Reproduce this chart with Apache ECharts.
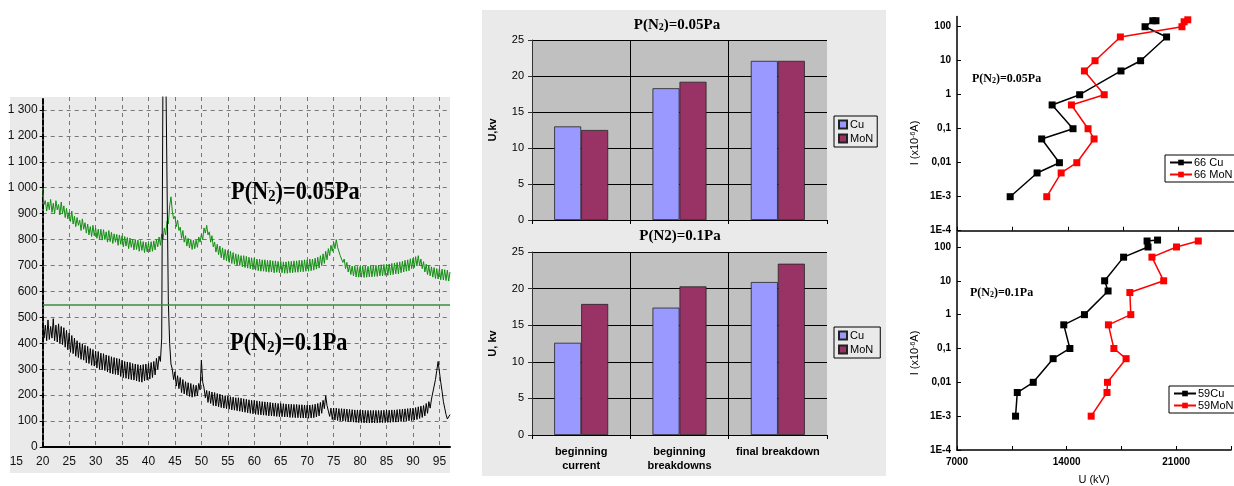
<!DOCTYPE html>
<html>
<head>
<meta charset="utf-8">
<title>MoN coatings: XRD and breakdown tests</title>
<script src="https://cdn.jsdelivr.net/npm/echarts@6/dist/echarts.min.js"></script>
<style>
  html, body { margin: 0; padding: 0; background: #fff; }
  #chart { width: 1234px; height: 486px; }
</style>
</head>
<body>
<div id="chart"></div>
<script>
// ---------- XRD patterns: counts every 0.25° of 2θ, from 20° to 97° ----------
// The noisy traces alternate between upper and lower readings of the band.
const xrdAngleStart = 20;
const xrdAngleStep = 0.25;
const xrdCounts005Pa = [
  995, 935, 950, 910,  945, 915, 955, 905,  940, 900, 950, 915,  935, 895, 945, 900,
  930, 885, 920, 880,  905, 870, 910, 860,  890, 850, 885, 855,  875, 835, 880, 840,
  865, 825, 860, 818,  850, 812, 855, 815,  845, 805, 840, 800,  840, 798, 838, 800,
  830, 790, 835, 792,  828, 785, 822, 790,  820, 778, 818, 782,  815, 772, 812, 775,
  808, 765, 806, 770,  802, 760, 800, 762,  798, 755, 796, 758,  792, 750, 790, 752,
  788, 752, 792, 755,  795, 760, 800, 772,  810, 778, 822, 800,  845, 818, 872, 860,
  930, 965, 910, 880,  890, 850, 875, 835,  848, 805, 835, 790,  815, 775, 805, 768,
  800, 762, 798, 765,  798, 770, 810, 790,  820, 800, 845, 825,  855, 818, 830, 790,
  815, 772, 790, 752,  782, 742, 775, 730,  768, 722, 762, 718,  758, 712, 755, 708,
  750, 705, 745, 700,  742, 700, 738, 695,  738, 692, 735, 690,  732, 688, 730, 684,
  728, 682, 725, 680,  724, 678, 722, 678,  722, 676, 720, 674,  720, 675, 718, 672,
  718, 674, 716, 672,  716, 672, 714, 670,  714, 670, 716, 672,  716, 672, 718, 674,
  718, 674, 720, 676,  720, 676, 722, 678,  722, 678, 725, 680,  725, 682, 728, 686,
  732, 690, 738, 700,  745, 708, 755, 722,  765, 738, 778, 755,  790, 765, 800, 770,
  770, 738, 745, 712,  725, 688, 712, 675,  700, 665, 698, 660,  698, 656, 696, 655,
  696, 655, 698, 654,  698, 655, 697, 656,  700, 656, 699, 658,  701, 658, 702, 660,
  703, 660, 704, 662,  705, 662, 706, 664,  708, 665, 710, 668,  712, 668, 714, 672,
  716, 675, 720, 678,  722, 680, 726, 688,  728, 692, 734, 698,  738, 700, 725, 688,
  715, 675, 705, 665,  700, 660, 695, 655,  692, 650, 688, 648,  688, 645, 686, 644,
  684, 642, 682, 640,  675
];
const xrdCounts01Pa = [
  480, 420, 470, 410,  490, 415, 465, 420,  495, 410, 470, 405,  475, 400, 465, 395,
  460, 385, 450, 375,  440, 365, 430, 360,  420, 350, 410, 345,  402, 338, 398, 335,
  392, 325, 388, 322,  380, 315, 376, 312,  370, 305, 368, 300,  362, 298, 360, 295,
  355, 290, 352, 285,  348, 282, 345, 280,  342, 278, 340, 272,  335, 268, 330, 265,
  328, 262, 326, 260,  322, 258, 320, 255,  318, 252, 316, 250,  318, 255, 320, 258,
  322, 262, 326, 268,  330, 278, 342, 300,  350, 330, 420, 1500,  1500, 1500, 1500, 560,
  400, 320, 300, 260,  290, 235, 275, 225,  268, 210, 260, 205,  252, 200, 248, 195,
  245, 192, 240, 195,  238, 198, 245, 220,  335, 250, 228, 190,  218, 172, 215, 168,
  212, 160, 210, 158,  206, 155, 204, 152,  200, 150, 198, 148,  196, 146, 194, 143,
  192, 142, 190, 140,  190, 138, 188, 136,  186, 134, 184, 132,  182, 130, 180, 128,
  180, 126, 178, 125,  176, 124, 175, 123,  174, 122, 173, 120,  172, 120, 170, 119,
  170, 118, 168, 117,  168, 117, 167, 116,  166, 116, 165, 114,  165, 114, 164, 113,
  164, 113, 163, 112,  163, 112, 162, 112,  162, 111, 162, 112,  163, 113, 165, 116,
  168, 120, 172, 130,  180, 148, 198, 160,  165, 118, 150, 106,  150, 104, 150, 102,
  148, 101, 148, 100,  147, 99, 146, 98,  145, 97, 144, 96,  143, 95, 143, 94,
  142, 94, 142, 93,  141, 93, 141, 93,  141, 93, 141, 93,  141, 93, 141, 94,
  141, 94, 142, 94,  142, 95, 142, 95,  143, 96, 143, 96,  144, 97, 145, 98,
  146, 99, 147, 100,  148, 101, 149, 102,  150, 104, 152, 106,  155, 110, 158, 114,
  160, 120, 168, 130,  175, 150, 185, 178,  235, 260, 295, 330,  290, 250, 215, 175,
  150, 125, 108, 115,  125
];
const xrdDividerLevel = 548;

// ---------- breakdown voltages (kV) ----------
const stageCategories = ['beginning\ncurrent', 'beginning\nbreakdowns', 'final breakdown'];
const cu005 = [13.0, 18.3, 22.1];
const mon005 = [12.5, 19.2, 22.1];
const cu01 = [12.6, 17.4, 20.9];
const mon01 = [17.9, 20.3, 23.4];

// ---------- I–U curves: current (×10⁻⁶ A) vs voltage ----------
const current66Cu  = [0.001, 0.005, 0.01, 0.05, 0.1, 0.5, 1, 5, 10, 50, 100, 150, 150];
const voltage66Cu  = [10360, 12060, 13470, 12350, 14330, 13010, 14750, 17360, 18600, 20240, 18880, 19370, 19570];
const current66MoN = [0.001, 0.005, 0.01, 0.05, 0.1, 0.5, 1, 5, 10, 50, 100, 140, 160];
const voltage66MoN = [12670, 13580, 14570, 15660, 15280, 14230, 16300, 15050, 15720, 17320, 21210, 21350, 21580];
const current59Cu  = [0.001, 0.005, 0.01, 0.05, 0.1, 0.5, 1, 5, 10, 50, 100, 150, 160];
const voltage59Cu  = [10740, 10850, 11870, 13140, 14210, 13820, 15140, 16650, 16430, 17640, 19200, 19140, 19810];
const current59MoN = [0.001, 0.005, 0.01, 0.05, 0.1, 0.5, 1, 4.5, 10, 50, 100, 150];
const voltage59MoN = [15570, 16580, 16610, 17800, 17020, 16670, 18100, 18040, 20200, 19450, 21020, 22410];
const decadeLabels = ['1E-4', '1E-3', '0,01', '0,1', '1', '10', '100'];

// ---------- helpers ----------
const SANS = '"Liberation Sans", Arial, sans-serif';
const NARROW = '"Liberation Sans Narrow", "Liberation Sans", Arial, sans-serif';
const SERIF = '"Liberation Serif", "Times New Roman", serif';

function xrdPairs(counts) {
  return counts.map((c, i) => [xrdAngleStart + i * xrdAngleStep, c]);
}
function ivPairs(voltage, current) {
  return voltage.map((u, i) => [u, Math.log10(current[i])]);
}
function thousands(v) {
  return v >= 1000 ? String(v).replace(/(\d)(\d{3})$/, '$1 $2') : String(v);
}
function decadeLabel(v) {
  const k = Math.round(v) + 4;
  return Math.abs(v - Math.round(v)) < 1e-6 && decadeLabels[k] ? decadeLabels[k] : '';
}

const chart = echarts.init(document.getElementById('chart'), null, { renderer: 'canvas' });

const barAxisY = (name) => ({
  type: 'value', min: 0, max: 25, interval: 5,
  name: name, nameLocation: 'middle', nameGap: 34,
  nameTextStyle: { fontFamily: SANS, fontSize: 11, fontWeight: 'bold', color: '#000' },
  axisLine: { show: true, lineStyle: { color: '#333', width: 1 } },
  axisTick: { show: true, length: 4, lineStyle: { color: '#333' } },
  axisLabel: { fontFamily: SANS, fontSize: 11, color: '#000', margin: 8 },
  splitLine: { show: true, lineStyle: { color: '#000', width: 1 } }
});
const barAxisX = (showLabels) => ({
  type: 'category', data: stageCategories, boundaryGap: true,
  axisLine: { show: true, lineStyle: { color: '#000', width: 1 } },
  axisTick: { show: true, length: 4, lineStyle: { color: '#000' } },
  axisLabel: {
    show: showLabels, interval: 0, fontFamily: SANS, fontSize: 11, fontWeight: 'bold',
    color: '#000', lineHeight: 14, margin: 10
  },
  splitLine: { show: true, showMaxLine: false, lineStyle: { color: '#000', width: 1 } }
});
const ivAxisY = (max) => ({
  type: 'value', min: -4, max: Math.log10(max), interval: 1,
  axisLine: { show: true, onZero: false, lineStyle: { color: '#000', width: 1.5 } },
  axisTick: { show: true, inside: true, length: 4, lineStyle: { color: '#000', width: 1 } },
  axisLabel: { formatter: decadeLabel, showMaxLabel: false, fontFamily: SANS, fontSize: 10, fontWeight: 'bold', color: '#000', margin: 6 },
  splitLine: { show: false }
});
const ivAxisX = (showLabels) => ({
  type: 'value', min: 7000, max: 24500, interval: 3500,
  axisLine: { show: true, onZero: false, lineStyle: { color: '#000', width: 1.5 } },
  axisTick: { show: true, inside: true, length: 4, lineStyle: { color: '#000', width: 1 } },
  axisLabel: {
    show: showLabels, fontFamily: SANS, fontSize: 10, fontWeight: 'bold', color: '#000', margin: 7,
    formatter: (v) => (v % 7000 === 0 && v < 24500 ? String(v) : '')
  },
  name: showLabels ? 'U (kV)' : '', nameLocation: 'middle', nameGap: 24,
  nameTextStyle: { fontFamily: SANS, fontSize: 11, color: '#000' },
  splitLine: { show: false }
});

const subTitle = (x, y, big, small, rest, size, scaleX) => ({
  type: 'text', x: x, y: y, scaleX: scaleX || 1, z: 10,
  style: {
    text: '{a|' + big + '}{s|' + small + '}{a|' + rest + '}',
    verticalAlign: 'middle', align: 'left',
    rich: {
      a: { fontFamily: SERIF, fontWeight: 'bold', fontSize: size, fill: '#000' },
      s: { fontFamily: SERIF, fontWeight: 'bold', fontSize: Math.round(size * 0.66), fill: '#000', verticalAlign: 'bottom' }
    }
  }
});

const option = {
  animation: false,
  backgroundColor: '#ffffff',
  graphic: [
    // panel backgrounds
    { type: 'rect', z: -1, shape: { x: 10, y: 97, width: 440, height: 376 }, style: { fill: '#eaeaea' } },
    { type: 'rect', z: -1, shape: { x: 482, y: 10, width: 404, height: 466 }, style: { fill: '#eaeaea' } },
    // XRD annotations
    subTitle(231, 192, 'P(N', '2', ')=0.05Pa', 26, 0.86),
    subTitle(230, 343, 'P(N', '2', ')=0.1Pa', 26, 0.86),
    // bar-chart titles
    {
      type: 'text', x: 677, y: 25, z: 10,
      style: {
        text: '{a|P(N}{s|2}{a|)=0.05Pa}', align: 'center', verticalAlign: 'middle',
        rich: {
          a: { fontFamily: SERIF, fontWeight: 'bold', fontSize: 15, fill: '#000' },
          s: { fontFamily: SERIF, fontWeight: 'bold', fontSize: 10, fill: '#000', verticalAlign: 'bottom' }
        }
      }
    },
    {
      type: 'text', x: 680, y: 236, z: 10,
      style: { text: 'P(N2)=0.1Pa', align: 'center', verticalAlign: 'middle', font: 'bold 15px ' + SERIF, fill: '#000' }
    },
    // I–U annotations
    subTitle(972, 79, 'P(N', '2', ')=0.05Pa', 12, 1),
    subTitle(970, 293, 'P(N', '2', ')=0.1Pa', 12, 1),
    // I–U axis names
    {
      type: 'text', x: 915, y: 143, rotation: Math.PI / 2, z: 10,
      style: {
        text: '{a|I (x10}{p|-6}{a|A)}', align: 'center', verticalAlign: 'middle',
        rich: { a: { fontFamily: SANS, fontSize: 11, fill: '#000' }, p: { fontFamily: SANS, fontSize: 7, fill: '#000', verticalAlign: 'top' } }
      }
    },
    {
      type: 'text', x: 915, y: 353, rotation: Math.PI / 2, z: 10,
      style: {
        text: '{a|I (x10}{p|-6}{a|A)}', align: 'center', verticalAlign: 'middle',
        rich: { a: { fontFamily: SANS, fontSize: 11, fill: '#000' }, p: { fontFamily: SANS, fontSize: 7, fill: '#000', verticalAlign: 'top' } }
      }
    }
  ],
  legend: [
    {
      data: ['Cu', 'MoN'], orient: 'vertical', left: 834, top: 116,
      itemWidth: 8, itemHeight: 8, itemGap: 3, padding: [3, 4, 3, 4],
      borderColor: '#000', borderWidth: 1, backgroundColor: '#eaeaea', icon: 'rect',
      textStyle: { fontFamily: SANS, fontSize: 11, color: '#000', padding: [0, 0, 0, -2] },
      selectedMode: false
    },
    {
      data: ['Cu ', 'MoN '], orient: 'vertical', left: 834, top: 327,
      itemWidth: 8, itemHeight: 8, itemGap: 3, padding: [3, 4, 3, 4],
      borderColor: '#000', borderWidth: 1, backgroundColor: '#eaeaea', icon: 'rect',
      textStyle: { fontFamily: SANS, fontSize: 11, color: '#000', padding: [0, 0, 0, -2] },
      selectedMode: false
    },
    {
      data: ['66 Cu', '66 MoN'], orient: 'vertical', left: 1165, top: 155,
      itemWidth: 22, itemHeight: 7, itemGap: 1, padding: [2, 20, 2, 4],
      borderColor: '#000', borderWidth: 1, backgroundColor: '#fff',
      textStyle: { fontFamily: SANS, fontSize: 11, color: '#000', padding: [0, 0, 0, -3] },
      selectedMode: false
    },
    {
      data: ['59Cu', '59MoN'], orient: 'vertical', left: 1169, top: 386,
      itemWidth: 22, itemHeight: 7, itemGap: 1, padding: [2, 20, 2, 4],
      borderColor: '#000', borderWidth: 1, backgroundColor: '#fff',
      textStyle: { fontFamily: SANS, fontSize: 11, color: '#000', padding: [0, 0, 0, -3] },
      selectedMode: false
    }
  ],
  grid: [
    { left: 16.3, right: 784, top: 97, bottom: 39 },                 // XRD angle labels
    { left: 42.7, right: 784, top: 97, bottom: 39 },                 // XRD plot
    { left: 532, right: 407, top: 40, bottom: 266, show: true, backgroundColor: '#c0c0c0', borderWidth: 0 },
    { left: 532, right: 407, top: 252, bottom: 51, show: true, backgroundColor: '#c0c0c0', borderWidth: 0 },
    { left: 957, right: -37, top: 16.5, bottom: 255.3 },
    { left: 957, right: -37, top: 232.1, bottom: 35 }
  ],
  xAxis: [
    {
      gridIndex: 0, type: 'value', min: 15, max: 97, interval: 5,
      axisLine: { show: false }, axisTick: { show: false }, splitLine: { show: false },
      axisLabel: { showMaxLabel: false, fontFamily: NARROW, fontSize: 12, color: '#111', margin: 9 }
    },
    {
      gridIndex: 1, type: 'value', min: 20, max: 97, interval: 5,
      axisLine: { show: true, onZero: false, lineStyle: { color: '#000', width: 2 } },
      axisTick: { show: false }, axisLabel: { show: false },
      splitLine: { show: true, showMinLine: false, showMaxLine: false, lineStyle: { color: '#777', width: 1, type: [4, 4] } }
    },
    Object.assign(barAxisX(false), { gridIndex: 2 }),
    Object.assign(barAxisX(true), { gridIndex: 3 }),
    Object.assign(ivAxisX(false), { gridIndex: 4 }),
    Object.assign(ivAxisX(true), { gridIndex: 5 })
  ],
  yAxis: [
    { gridIndex: 0, type: 'value', min: 0, max: 1, show: false },
    {
      gridIndex: 1, type: 'value', min: 0, max: 1350, interval: 100,
      axisLine: { show: true, onZero: false, lineStyle: { color: '#000', width: 2, type: [5, 2] } },
      axisTick: { show: true, length: 3, lineStyle: { color: '#000' } },
      axisLabel: { formatter: thousands, showMaxLabel: false, fontFamily: NARROW, fontSize: 12, color: '#111', margin: 5 },
      splitLine: { show: true, showMinLine: false, showMaxLine: false, lineStyle: { color: '#777', width: 1, type: [4, 4] } }
    },
    Object.assign(barAxisY('U,kv'), { gridIndex: 2 }),
    Object.assign(barAxisY('U, kv'), { gridIndex: 3 }),
    Object.assign(ivAxisY(200), { gridIndex: 4 }),
    Object.assign(ivAxisY(275), { gridIndex: 5 })
  ],
  series: [
    {
      name: 'P(N2)=0.05Pa', type: 'line', xAxisIndex: 1, yAxisIndex: 1, data: xrdPairs(xrdCounts005Pa),
      showSymbol: false, symbol: 'none', lineStyle: { color: '#138f13', width: 1 }, silent: true,
      markLine: {
        silent: true, symbol: 'none', label: { show: false },
        lineStyle: { color: '#3c8c3c', width: 1.5, type: 'solid' },
        data: [{ yAxis: xrdDividerLevel }]
      }
    },
    {
      name: 'P(N2)=0.1Pa', type: 'line', xAxisIndex: 1, yAxisIndex: 1, data: xrdPairs(xrdCounts01Pa),
      showSymbol: false, symbol: 'none', lineStyle: { color: '#000', width: 1 }, silent: true
    },
    {
      name: 'Cu', type: 'bar', xAxisIndex: 2, yAxisIndex: 2, data: cu005, barWidth: 27, barGap: '0%',
      itemStyle: { color: '#9999ff', borderColor: '#222', borderWidth: 0.8 }
    },
    {
      name: 'MoN', type: 'bar', xAxisIndex: 2, yAxisIndex: 2, data: mon005, barWidth: 27, barGap: '0%',
      itemStyle: { color: '#993366', borderColor: '#222', borderWidth: 0.8 }
    },
    {
      name: 'Cu ', type: 'bar', xAxisIndex: 3, yAxisIndex: 3, data: cu01, barWidth: 27, barGap: '0%',
      itemStyle: { color: '#9999ff', borderColor: '#222', borderWidth: 0.8 }
    },
    {
      name: 'MoN ', type: 'bar', xAxisIndex: 3, yAxisIndex: 3, data: mon01, barWidth: 27, barGap: '0%',
      itemStyle: { color: '#993366', borderColor: '#222', borderWidth: 0.8 }
    },
    {
      name: '66 Cu', type: 'line', xAxisIndex: 4, yAxisIndex: 4, data: ivPairs(voltage66Cu, current66Cu),
      symbol: 'rect', symbolSize: 7, itemStyle: { color: '#000' }, lineStyle: { color: '#000', width: 1.5 }
    },
    {
      name: '66 MoN', type: 'line', xAxisIndex: 4, yAxisIndex: 4, data: ivPairs(voltage66MoN, current66MoN),
      symbol: 'rect', symbolSize: 7, itemStyle: { color: '#ff0000' }, lineStyle: { color: '#ff0000', width: 1.5 }
    },
    {
      name: '59Cu', type: 'line', xAxisIndex: 5, yAxisIndex: 5, data: ivPairs(voltage59Cu, current59Cu),
      symbol: 'rect', symbolSize: 7, itemStyle: { color: '#000' }, lineStyle: { color: '#000', width: 1.5 }
    },
    {
      name: '59MoN', type: 'line', xAxisIndex: 5, yAxisIndex: 5, data: ivPairs(voltage59MoN, current59MoN),
      symbol: 'rect', symbolSize: 7, itemStyle: { color: '#ff0000' }, lineStyle: { color: '#ff0000', width: 1.5 }
    }
  ]
};

chart.setOption(option);
</script>
</body>
</html>
